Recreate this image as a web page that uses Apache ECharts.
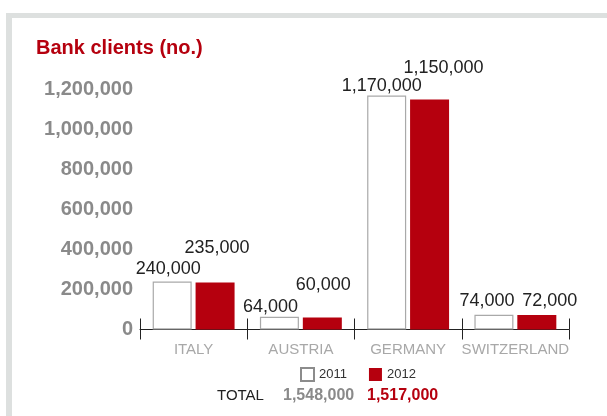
<!DOCTYPE html>
<html>
<head>
<meta charset="utf-8">
<script src="https://cdn.jsdelivr.net/npm/echarts@6/dist/echarts.min.js"></script>
<style>
  html, body { margin: 0; padding: 0; background: #fff; }
  #chart { width: 607px; height: 416px; }
</style>
</head>
<body>
<div id="chart"></div>
<script>
// data
const countries = ['ITALY', 'AUSTRIA', 'GERMANY', 'SWITZERLAND'];
const years = ['2011', '2012'];
const clients2011 = [240000, 64000, 1170000, 74000];
const clients2012 = [235000, 60000, 1150000, 72000];
const yTicks = [0, 200000, 400000, 600000, 800000, 1000000, 1200000];

// label nudges so the values do not collide (layout only)
const nudge2011 = [[-4, 2], [-9, 4], [-5, 5], [-7, 0]];
const nudge2012 = [[2, -20], [1, -18], [14, -17], [13, 0]];

const red = '#b5000e';
const font = '"Liberation Sans", Arial, sans-serif';
const fmt = v => v.toLocaleString('en-US');
const sum = arr => arr.reduce((a, b) => a + b, 0);

const chart = echarts.init(document.getElementById('chart'));

const option = {
    animation: false,
    backgroundColor: '#fff',
    textStyle: { fontFamily: font },
    title: {
        text: 'Bank clients (no.)',
        left: 36, top: 38, padding: 0,
        textStyle: { color: red, fontSize: 20, fontWeight: 'bold', fontFamily: font }
    },
    legend: {
        left: 295, top: 362,
        itemWidth: 13, itemHeight: 13, itemGap: 22,
        icon: 'rect',
        textStyle: { color: '#333', fontSize: 13, fontFamily: font },
        data: [
            { name: years[0], itemStyle: { color: '#fff', borderColor: '#8c8c8c', borderWidth: 2 } },
            { name: years[1], itemStyle: { color: red } }
        ]
    },
    grid: { left: 140, right: 38, top: 89.5, bottom: 86.5 },
    xAxis: [
        {
            type: 'category',
            data: countries,
            axisLine: { show: true, lineStyle: { color: '#222', width: 1 } },
            axisTick: { show: true, length: 10, interval: 0, lineStyle: { color: '#222', width: 1 } },
            axisLabel: { color: '#a8a8a8', fontSize: 15, margin: 13, fontFamily: font, interval: 0 }
        },
        {
            type: 'category',
            data: countries,
            position: 'bottom',
            axisLine: { show: false },
            axisTick: { show: true, inside: true, length: 11, interval: 0, lineStyle: { color: '#222', width: 1 } },
            axisLabel: { show: false }
        }
    ],
    yAxis: {
        type: 'value',
        min: yTicks[0],
        max: yTicks[yTicks.length - 1],
        interval: yTicks[1] - yTicks[0],
        axisLine: { show: false },
        axisTick: { show: false },
        splitLine: { show: false },
        axisLabel: {
            color: '#8a8a8a', fontSize: 20, fontWeight: 'bold', margin: 7, fontFamily: font,
            formatter: v => fmt(v)
        }
    },
    series: [
        {
            name: years[0],
            type: 'bar',
            barWidth: 39,
            barGap: '10%',
            itemStyle: { color: '#fff', borderColor: '#a9a9a9', borderWidth: 1.2 },
            label: {
                show: true, position: 'top', color: '#222', fontSize: 18, fontFamily: font,
                formatter: p => fmt(p.value)
            },
            data: clients2011.map((v, i) => ({ value: v, label: { offset: nudge2011[i] } }))
        },
        {
            name: years[1],
            type: 'bar',
            barWidth: 39,
            barGap: '10%',
            itemStyle: { color: red },
            label: {
                show: true, position: 'top', color: '#222', fontSize: 18, fontFamily: font,
                formatter: p => fmt(p.value)
            },
            data: clients2012.map((v, i) => ({ value: v, label: { offset: nudge2012[i] } }))
        }
    ],
    graphic: [
        // light grey frame along top and left
        { type: 'rect', z: -10, shape: { x: 6, y: 13, width: 610, height: 410 }, style: { fill: '#dde0df' } },
        { type: 'rect', z: -9, shape: { x: 12, y: 18, width: 610, height: 410 }, style: { fill: '#fff' } },
        {
            type: 'text', left: 217, top: 388,
            style: { text: 'TOTAL', fill: '#222', font: '15px ' + font }
        },
        {
            type: 'text', left: 283, top: 388,
            style: { text: fmt(sum(clients2011)), fill: '#8a8a8a', font: 'bold 16px ' + font }
        },
        {
            type: 'text', left: 367, top: 388,
            style: { text: fmt(sum(clients2012)), fill: red, font: 'bold 16px ' + font }
        }
    ]
};

chart.setOption(option);
</script>
</body>
</html>
